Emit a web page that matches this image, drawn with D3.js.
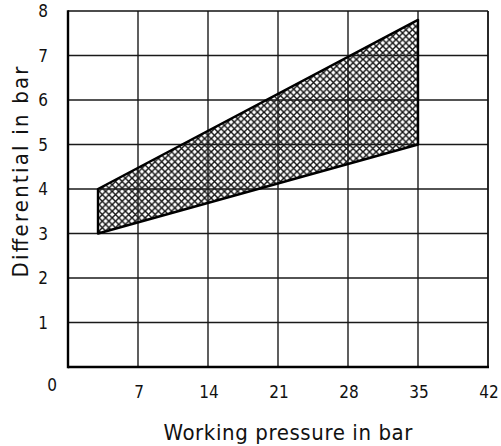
<!DOCTYPE html>
<html><head><meta charset="utf-8">
<script src="https://cdn.jsdelivr.net/npm/d3@7"></script>
<style>body{margin:0;background:#fff}svg{display:block}text{font-family:"DejaVu Sans Condensed","DejaVu Sans",sans-serif;fill:#111}</style>
</head><body><svg id="c" width="501" height="446"></svg>
<script>
const xTicks = [7, 14, 21, 28, 35, 42];
const yTicks = [1, 2, 3, 4, 5, 6, 7, 8];
const upperX = [3, 35];
const upperY = [4, 7.8];
const lowerX = [3, 35];
const lowerY = [3, 5];
const xTitle = "Working pressure in bar";
const yTitle = "Differential in bar";

const svg = d3.select("#c");
const L = 68, R = 488, T = 11, B = 367;
const x = d3.scaleLinear().domain([0, 42]).range([L, R]);
const y = d3.scaleLinear().domain([0, 8]).range([B, T]);

const S = 6.6;
const defs = svg.append("defs");
const pat = defs.append("pattern").attr("id","hatch").attr("patternUnits","userSpaceOnUse")
  .attr("width",S).attr("height",S);
pat.append("rect").attr("width",S).attr("height",S).attr("fill","#fff");
pat.append("path").attr("d",`M-1,-1 L${S+1},${S+1} M-1,${S+1} L${S+1},-1`)
  .attr("stroke","#111").attr("stroke-width",1.4).attr("fill","none");

// polygon
const pts = [];
upperX.forEach((d,i)=>pts.push([x(d), y(upperY[i])]));
for (let i = lowerX.length-1; i>=0; i--) pts.push([x(lowerX[i]), y(lowerY[i])]);
svg.append("path").attr("d", d3.line()(pts)+"Z").attr("fill","url(#hatch)").attr("stroke","none");

// grid
const g = svg.append("g");
g.selectAll(".v").data(xTicks.slice(0,-1)).join("line")
  .attr("x1",d=>x(d)).attr("x2",d=>x(d)).attr("y1",T).attr("y2",B)
  .attr("stroke","#1a1a1a").attr("stroke-width",1.4);
g.selectAll(".h").data(yTicks.slice(0,-1)).join("line")
  .attr("x1",L).attr("x2",R).attr("y1",d=>y(d)).attr("y2",d=>y(d))
  .attr("stroke","#1a1a1a").attr("stroke-width",1.4);

// polygon outline
svg.append("path").attr("d", d3.line()(pts)+"Z").attr("fill","none").attr("stroke","#000").attr("stroke-width",2.4).attr("stroke-linejoin","round");

// frame
svg.append("line").attr("x1",L).attr("x2",R).attr("y1",T).attr("y2",T).attr("stroke","#111").attr("stroke-width",1.6);
svg.append("line").attr("x1",R).attr("x2",R).attr("y1",T).attr("y2",B).attr("stroke","#111").attr("stroke-width",1.8);
svg.append("line").attr("x1",L).attr("x2",L).attr("y1",T-0.8).attr("y2",B+1.2).attr("stroke","#000").attr("stroke-width",2.4);
svg.append("line").attr("x1",L).attr("x2",R+1).attr("y1",B).attr("y2",B).attr("stroke","#000").attr("stroke-width",2.4);

// tick labels
svg.selectAll(".xt").data(xTicks).join("text")
  .attr("x",d=>x(d)+1).attr("y",398).attr("text-anchor","middle").attr("font-size",17).text(d=>d);
svg.selectAll(".yt").data(yTicks).join("text")
  .attr("x",43).attr("y",d=>y(d)+6).attr("text-anchor","middle").attr("font-size",17).text(d=>d);
svg.append("text").attr("x",52).attr("y",391).attr("text-anchor","middle").attr("font-size",17).text("0");

// titles
svg.append("text").attr("x",288).attr("y",440).attr("text-anchor","middle").attr("font-size",22)
  .attr("textLength",249).attr("lengthAdjust","spacing").text(xTitle);
svg.append("text").attr("transform","translate(28,172) rotate(-90)").attr("text-anchor","middle").attr("font-size",22)
  .attr("textLength",211).attr("lengthAdjust","spacing").text(yTitle);
</script></body></html>
